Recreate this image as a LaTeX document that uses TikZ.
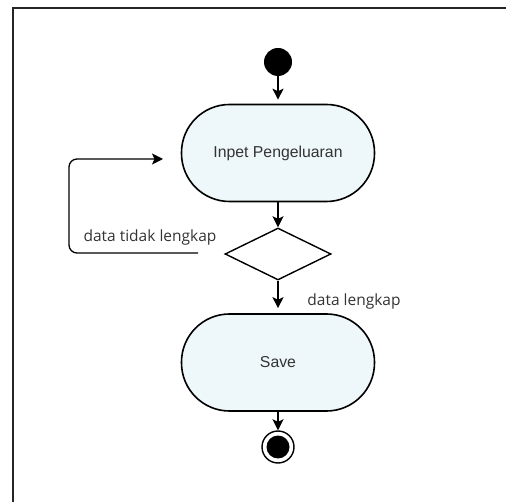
\documentclass[tikz,border=0pt]{standalone}
\usepackage{fontspec}
\setmainfont{Open Sans}
\newfontfamily\actfont{Liberation Sans}
\usetikzlibrary{shapes.geometric,arrows.meta}
\definecolor{actfill}{HTML}{EEF7FA}
\definecolor{txt}{HTML}{333333}
\tikzset{
  actbox/.style={rectangle, draw=black, line width=1.6pt, fill=actfill,
    rounded corners=48pt, minimum width=193pt, minimum height=97pt, inner sep=0pt,
    text=txt, font=\actfont\fontsize{15.8pt}{19pt}\selectfont},
  decbox/.style={diamond, draw=black, line width=1.4pt, fill=white, aspect=2.04,
    minimum width=106pt, minimum height=52pt, inner sep=0pt},
  startdot/.style={circle, fill=black, minimum size=28pt, inner sep=0pt},
  enddot/.style={circle, draw=black, line width=1.4pt, fill=white, minimum size=32pt, inner sep=0pt,
    path picture={\fill[black] (path picture bounding box.center) circle (11.5pt);}},
  flow/.style={line width=1.3pt, -{Stealth[length=11pt,width=11pt,inset=2.5pt]}},
  guard/.style={text=txt, font=\fontsize{15.5pt}{18pt}\selectfont, anchor=base, inner sep=0pt},
}
\begin{document}
\begin{tikzpicture}[x=1pt,y=-1pt]
\useasboundingbox (0,0) rectangle (506,502);
% frame
\draw[line width=2pt, draw=black!85] (12.5,502) -- (12.5,8.5) -- (506,8.5);

\node[startdot] (start) at (278,62) {};
\node[actbox] (act1) at (278,153) {Inpet Pengeluaran};
\node[decbox] (dec) at (278,254) {};
\node[actbox] (act2) at (278,362.5) {Save};
\node[enddot] (end) at (278,447) {};

\draw[flow, shorten >=4pt] (start) -- (act1);
\draw[flow] (act1) -- (dec);
\draw[flow, shorten >=5pt] (dec) -- (act2);
\draw[flow] (act2) -- (end);

\coordinate (lb) at (69,253);
\coordinate (lt) at (69,159);
\coordinate (lin) at (163,159);
\coordinate (lout) at (198,253);
\draw[flow, rounded corners=8pt] (lout) -- (lb) -- (lt) -- (lin);

\node[guard] (g1) at (150,241.5) {data tidak lengkap};
\node[guard] (g2) at (354,306) {data lengkap};
\end{tikzpicture}
\end{document}
